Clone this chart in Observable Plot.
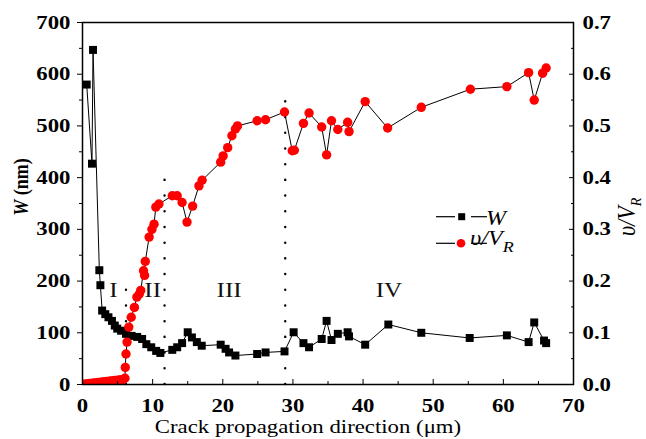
<!DOCTYPE html>
<html><head><meta charset="utf-8">
<script src="https://cdn.jsdelivr.net/npm/d3@7"></script>
<script src="https://cdn.jsdelivr.net/npm/@observablehq/plot@0.6"></script>
<style>
body{margin:0;background:#fff;}
#chart{position:relative;width:646px;height:439px;}
</style></head><body><div id="chart"></div>
<script>
// ---- data ----
const wX = [0.6, 1.35, 1.5, 2.4, 2.55, 2.8, 3.25, 3.7, 4.2, 4.6, 4.95, 5.5, 6.2, 7.0, 7.8, 8.5, 9.1, 9.8, 10.5, 11.1, 12.8, 13.5, 14.2, 15.0, 15.6, 16.3, 17.0, 19.7, 20.4, 20.9, 21.8, 24.9, 26.1, 28.8, 30.1, 31.5, 32.3, 34.1, 34.8, 35.5, 36.4, 37.8, 38.0, 40.3, 43.6, 48.3, 55.2, 60.5, 63.6, 64.4, 65.8, 66.1];
const wY = [580, 427, 647, 221, 192, 143, 136, 130, 123, 114, 108, 104, 98, 94, 92, 88, 78, 72, 65, 61, 67, 72, 80, 101, 91, 82, 75, 77, 69, 62, 56, 59, 62, 64, 101, 80, 72, 88, 123, 86, 98, 101, 93, 77, 116, 100, 90, 95, 82, 120, 85, 80];
const vX = [0.1, 0.4, 0.7, 1.0, 1.3, 1.6, 1.9, 2.2, 2.5, 2.8, 3.1, 3.4, 3.7, 4.0, 4.3, 4.6, 4.9, 5.2, 5.5, 5.8, 6.05, 6.1, 6.2, 6.35, 6.6, 6.95, 7.4, 7.75, 8.1, 8.3, 8.7, 8.85, 8.95, 9.5, 9.9, 10.2, 10.45, 10.9, 12.8, 13.5, 14.2, 14.9, 15.7, 16.6, 17.05, 19.7, 20.05, 20.7, 21.3, 21.8, 22.1, 24.9, 26.1, 28.8, 29.9, 30.2, 31.5, 32.3, 34.1, 34.8, 35.5, 36.4, 37.8, 38.0, 40.3, 43.5, 48.3, 55.3, 60.5, 63.6, 64.4, 65.6, 66.1];
const vY = [0.000, 0.001, 0.001, 0.002, 0.002, 0.003, 0.003, 0.004, 0.004, 0.005, 0.005, 0.006, 0.006, 0.007, 0.007, 0.008, 0.008, 0.009, 0.009, 0.010, 0.012, 0.033, 0.059, 0.082, 0.111, 0.130, 0.149, 0.169, 0.175, 0.182, 0.220, 0.211, 0.238, 0.285, 0.300, 0.310, 0.343, 0.349, 0.365, 0.365, 0.352, 0.314, 0.345, 0.384, 0.395, 0.430, 0.442, 0.458, 0.481, 0.494, 0.500, 0.510, 0.512, 0.527, 0.452, 0.453, 0.505, 0.525, 0.498, 0.444, 0.510, 0.493, 0.507, 0.489, 0.547, 0.496, 0.536, 0.571, 0.576, 0.603, 0.550, 0.602, 0.612];
const xTicks = [0, 10, 20, 30, 40, 50, 60, 70];
const xMinor = [5, 15, 25, 35, 45, 55, 65];
const wTicks = [0, 100, 200, 300, 400, 500, 600, 700];
const wMinor = [50, 150, 250, 350, 450, 550, 650];
const dividerX = [6.2, 11.7, 28.9];
const dividerTop = [200, 400, 560];
const regionLabels = ["I", "II", "III", "IV"];
const regionX = [4.4, 10.0, 20.9, 43.7];
const regionW = [183, 183, 183, 183];

// ---- build ----
const V_TO_W = 1000; // right axis 0.7 <-> left axis 700
const wData = wX.map((x, i) => ({x, y: wY[i]}));
const vData = vX.map((x, i) => ({x, y: vY[i] * V_TO_W}));
const dividers = dividerX.map((x, i) => ({x, top: dividerTop[i]}));
const regions = regionLabels.map((t, i) => ({t, x: regionX[i], y: regionW[i]}));

const serif = "'Liberation Serif','Times New Roman',serif";
const tickFont = {fontSize: 19, fontWeight: "bold", fontFamily: serif};

const plot = Plot.plot({
  width: 646, height: 439,
  marginLeft: 82, marginRight: 73, marginTop: 22, marginBottom: 55,
  style: {fontFamily: serif, background: "white", color: "black"},
  x: {domain: [0, 70]},
  y: {domain: [0, 700]},
  marks: [
    Plot.ruleX(dividers, {x: "x", y1: 0, y2: "top", stroke: "black", strokeWidth: 2.4, strokeDasharray: "0.1,15.6", strokeLinecap: "round"}),
    Plot.text(regions, {x: "x", y: "y", text: "t", fontSize: 21, fill: "#111", fontFamily: serif}),
    Plot.line(wData, {x: "x", y: "y", stroke: "black", strokeWidth: 1}),
    Plot.dot(wData, {x: "x", y: "y", symbol: "square", r: 4.5, fill: "black", stroke: "none"}),
    Plot.line(vData, {x: "x", y: "y", stroke: "black", strokeWidth: 1}),
    Plot.dot(vData, {x: "x", y: "y", r: 4.7, fill: "#ff0000", stroke: "none", clip: true}),
    Plot.axisX({ticks: xTicks, tickSize: -5, tickPadding: 19, label: null, ...tickFont}),
    Plot.axisX({ticks: xMinor, tickSize: -3, tickFormat: () => "", label: null}),
    Plot.axisY({anchor: "left", ticks: wTicks, tickSize: 5, tickPadding: 7, label: null, ...tickFont}),
    Plot.axisY({anchor: "left", ticks: wMinor, tickSize: 3, tickFormat: () => "", label: null}),
    Plot.axisY({anchor: "right", ticks: wTicks, tickSize: -5, tickPadding: 14, label: null, tickFormat: d => (d / V_TO_W).toFixed(1), ...tickFont}),
    Plot.axisY({anchor: "right", ticks: wMinor, tickSize: -3, tickFormat: () => "", label: null}),
    Plot.frame({stroke: "black", strokeWidth: 1.5})
  ]
});
document.getElementById("chart").appendChild(plot);

// horizontal stretch of text to match the reference's wide glyphs
const K = 1.2;
function stretch(node, k) {
  const x = +node.getAttribute("x") || 0, y = +node.getAttribute("y") || 0;
  const t = node.getAttribute("transform") || "";
  node.setAttribute("transform", `${t} translate(${x},${y}) scale(${k},1) translate(${-x},${-y})`);
}
plot.querySelectorAll('g[aria-label$="tick label"] text, g[aria-label="text"] text').forEach(n => stretch(n, K));

const svg = d3.select(plot);
// bottom title
svg.append("text").attr("transform", `translate(308,433) scale(${K},1)`).attr("text-anchor", "middle")
  .attr("font-family", serif).attr("font-size", 19).attr("fill", "black")
  .text("Crack propagation direction (\u03bcm)");
// left title
const lt = svg.append("text").attr("transform", `translate(28,187) scale(${K},1) rotate(-90)`).attr("text-anchor", "middle")
  .attr("font-family", serif).attr("font-size", 18).attr("font-weight", "bold").attr("fill", "black");
lt.append("tspan").attr("font-style", "italic").text("W");
lt.append("tspan").text(" (nm)");
// right title
const rt = svg.append("text").attr("transform", `translate(635,236) scale(1.1,1) rotate(-90)`).attr("text-anchor", "start")
  .attr("font-family", serif).attr("font-size", 22).attr("font-style", "italic").attr("fill", "black");
rt.append("tspan").text("\u03c5/V");
rt.append("tspan").attr("font-size", 14).attr("dy", 5).text("R");

// legend
const lg = svg.append("g");
const rows = [{y: 216.7, sym: "square"}, {y: 243.3, sym: "circle"}];
rows.forEach(r => {
  lg.append("line").attr("x1", 436).attr("x2", 455).attr("y1", r.y).attr("y2", r.y).attr("stroke", "black").attr("stroke-width", 1.2);
  lg.append("line").attr("x1", 471).attr("x2", 487).attr("y1", r.y).attr("y2", r.y).attr("stroke", "black").attr("stroke-width", 1.2);
  if (r.sym === "square") lg.append("rect").attr("x", 458.2).attr("y", r.y - 3.5).attr("width", 7).attr("height", 7).attr("fill", "black");
  else lg.append("circle").attr("cx", 461).attr("cy", r.y).attr("r", 4.3).attr("fill", "#ff0000");
});
lg.append("text").attr("transform", `translate(496,225) scale(${K},1)`).attr("font-family", serif).attr("font-size", 20)
  .attr("font-style", "italic").attr("fill", "black").text("W");
const l2 = lg.append("text").attr("transform", `translate(492,245) scale(${K},1)`).attr("font-family", serif).attr("font-size", 20)
  .attr("font-style", "italic").attr("fill", "black");
l2.append("tspan").text("\u03c5/V");
l2.append("tspan").attr("font-size", 15).attr("dy", 7).text("R");
</script></body></html>
